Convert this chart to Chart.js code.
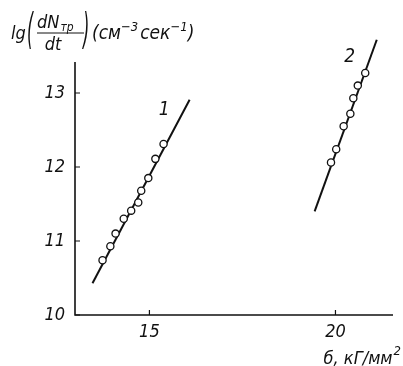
<!DOCTYPE html>
<html>
<head>
<meta charset="utf-8">
<script src="https://cdn.jsdelivr.net/npm/chart.js@4/dist/chart.umd.min.js"></script>
<style>
  html, body { margin: 0; padding: 0; background: #fff; }
  canvas { display: block; }
</style>
</head>
<body>
<canvas id="c" width="403" height="366"></canvas>
<script>
// Stress σ (kG/mm²) and log of fracture-nucleation rate, two test series
const sigma1 = [13.74, 13.95, 14.09, 14.31, 14.51, 14.70, 14.78, 14.97, 15.16, 15.38];
const rate1  = [10.74, 10.93, 11.10, 11.30, 11.41, 11.52, 11.68, 11.85, 12.11, 12.31];
const sigma2 = [19.88, 20.02, 20.22, 20.40, 20.48, 20.60, 20.80];
const rate2  = [12.06, 12.24, 12.55, 12.72, 12.93, 13.10, 13.27];

// Straight-line fits (end points)
const fitSigma1 = [13.47, 16.08];
const fitRate1  = [10.43, 12.91];
const fitSigma2 = [19.44, 21.11];
const fitRate2  = [11.40, 13.72];

// Curve labels and their anchor values
const curveNames = ['1', '2'];
const curveLabelSigma = [15.40, 20.38];
const curveLabelRate  = [12.77, 13.49];

// Axis ticks
const xTicks = [15, 20];
const yTicks = [10, 11, 12, 13];
const yAxisTop = 13.42;

const INK = '#111';
const FONT = '"Liberation Sans Narrow", "DejaVu Sans Condensed", "Liberation Sans", sans-serif';
const pts = (xs, ys) => xs.map((x, i) => ({ x, y: ys[i] }));

// tall, thin bracket: a normal glyph stretched vertically
function tallGlyph(ctx, ch, x, yTop, yBottom, size) {
  ctx.save();
  ctx.font = 'italic ' + size + 'px ' + FONT;
  ctx.textBaseline = 'middle';
  const k = (yBottom - yTop) / (size * 1.0);
  ctx.translate(x, (yTop + yBottom) / 2);
  ctx.scale(1, k);
  ctx.fillText(ch, 0, 0);
  ctx.restore();
}

const decor = {
  id: 'decor',
  beforeDatasetsDraw(chart) {
    const { ctx, chartArea } = chart;
    const xs = chart.scales.x, ys = chart.scales.y;
    const x0 = chartArea.left, y0 = ys.getPixelForValue(10);
    ctx.save();
    ctx.strokeStyle = INK;
    ctx.lineWidth = 1.6;
    ctx.beginPath();
    ctx.moveTo(x0, ys.getPixelForValue(yAxisTop));
    ctx.lineTo(x0, y0);
    ctx.lineTo(chartArea.right - 2, y0);
    ctx.stroke();
    ctx.lineWidth = 1.2;
    ctx.beginPath();
    yTicks.forEach(v => {
      const p = ys.getPixelForValue(v);
      ctx.moveTo(x0, p); ctx.lineTo(x0 + 5, p);
    });
    xTicks.forEach(v => {
      const p = xs.getPixelForValue(v);
      ctx.moveTo(p, y0); ctx.lineTo(p, y0 - 5);
    });
    ctx.stroke();
    ctx.restore();
  },
  afterDraw(chart) {
    const { ctx } = chart;
    const xs = chart.scales.x, ys = chart.scales.y;
    ctx.save();
    ctx.fillStyle = INK;
    ctx.strokeStyle = INK;

    // curve numbers
    ctx.textAlign = 'center';
    ctx.textBaseline = 'middle';
    ctx.font = 'italic 19px ' + FONT;
    curveNames.forEach((t, i) => {
      ctx.fillText(t, xs.getPixelForValue(curveLabelSigma[i]), ys.getPixelForValue(curveLabelRate[i]));
    });

    // y-axis title: lg(dN_тр/dt)(см⁻³сек⁻¹)
    ctx.textBaseline = 'alphabetic';
    ctx.textAlign = 'left';
    ctx.font = 'italic 18px ' + FONT;
    ctx.fillText('lg', 11, 39);
    tallGlyph(ctx, '(', 27, 12, 54, 18);
    tallGlyph(ctx, ')', 83, 12, 54, 18);
    ctx.font = 'italic 18px ' + FONT;
    ctx.fillText('dN', 37, 28);
    const dnW = ctx.measureText('dN').width;
    ctx.font = 'italic 12px ' + FONT;
    ctx.fillText('тр', 37 + dnW + 1, 31);
    ctx.lineWidth = 1;
    ctx.beginPath();
    ctx.moveTo(37, 33); ctx.lineTo(84, 33);
    ctx.stroke();
    ctx.font = 'italic 18px ' + FONT;
    ctx.textAlign = 'center';
    ctx.fillText('dt', 53, 50);
    ctx.textAlign = 'left';

    let x = 92;
    const seg = (t, f, y, gap) => { ctx.font = f; ctx.fillText(t, x, y); x += ctx.measureText(t).width + (gap || 0); };
    seg('(см', 'italic 19px ' + FONT, 39);
    seg('−3', 'italic 13px ' + FONT, 31, 2);
    seg('сек', 'italic 19px ' + FONT, 39);
    seg('−1', 'italic 13px ' + FONT, 31);
    seg(')', 'italic 19px ' + FONT, 39);

    // x-axis title: σ, кГ/мм²
    ctx.textAlign = 'right';
    const sup = '2';
    ctx.font = 'italic 13px ' + FONT;
    const supW = ctx.measureText(sup).width;
    ctx.fillText(sup, 401, 355);
    ctx.font = 'italic 18px ' + FONT;
    ctx.fillText('б, кГ/мм', 400 - supW, 364);
    ctx.restore();
  }
};

const tickFont = { family: FONT, size: 18, style: 'italic' };

new Chart(document.getElementById('c'), {
  type: 'scatter',
  data: {
    datasets: [
      { label: '1', data: pts(sigma1, rate1), order: 0,
        pointRadius: 3.6, pointBackgroundColor: '#fff', pointBorderColor: INK, pointBorderWidth: 1.3 },
      { label: '2', data: pts(sigma2, rate2), order: 0,
        pointRadius: 3.6, pointBackgroundColor: '#fff', pointBorderColor: INK, pointBorderWidth: 1.3 },
      { label: 'fit 1', data: pts(fitSigma1, fitRate1), showLine: true, order: 1,
        borderColor: INK, borderWidth: 2, pointRadius: 0 },
      { label: 'fit 2', data: pts(fitSigma2, fitRate2), showLine: true, order: 1,
        borderColor: INK, borderWidth: 2, pointRadius: 0 }
    ]
  },
  options: {
    responsive: false,
    animation: false,
    events: [],
    layout: { padding: { top: 37, right: 8, left: 0, bottom: 0 } },
    plugins: { legend: { display: false }, tooltip: { enabled: false } },
    scales: {
      x: {
        type: 'linear', min: 13, max: 21.6,
        afterBuildTicks(s) { s.ticks = xTicks.map(v => ({ value: v })); },
        afterFit(s) { s.height = 51; },
        grid: { display: false, drawTicks: false },
        border: { display: false },
        ticks: { font: tickFont, color: INK, padding: 7, maxRotation: 0 }
      },
      y: {
        type: 'linear', min: 10, max: 13.757,
        afterBuildTicks(s) { s.ticks = yTicks.map(v => ({ value: v })); },
        afterFit(s) { s.width = 75; },
        grid: { display: false, drawTicks: false },
        border: { display: false },
        ticks: { font: tickFont, color: INK, padding: 10 }
      }
    }
  },
  plugins: [decor]
});
</script>
</body>
</html>
